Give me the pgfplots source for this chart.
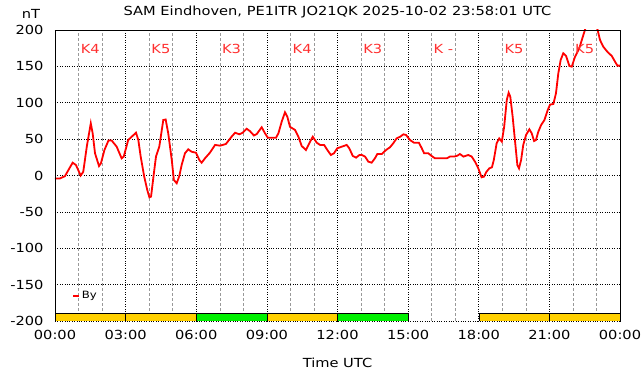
\documentclass[border=0pt]{standalone}
\usepackage{pgfplots}
\pgfplotsset{compat=1.18}
\usepackage{fontspec}
\setmainfont[FakeStretch=1.17]{DejaVu Sans}
\definecolor{kgold}{HTML}{FFD000}
\definecolor{kgreen}{HTML}{00F000}
\definecolor{klab}{HTML}{FF3030}
\begin{document}
\begin{tikzpicture}
\begin{axis}[
  name=ax,
  scale only axis, width=565pt, height=291pt,
  xmin=0, xmax=24, ymin=-200, ymax=200,
  xtick={0,3,...,24},
  xticklabels={00:00,03:00,06:00,09:00,12:00,15:00,18:00,21:00,00:00},
  minor xtick={1,2,4,5,7,8,10,11,13,14,16,17,19,20,22,23},
  ytick={-200,-150,...,200},
  grid=both,
  major grid style={black, dotted, line width=0.7pt},
  minor grid style={gray!80, densely dashed, line width=0.5pt},
  major tick length=0pt, minor tick length=0pt,
  axis line style={draw=none},
  /pgf/number format/assume math mode=true,
  tick label style={font=\fontsize{12.5}{14}\selectfont},
  yticklabel style={xshift=-8pt},
  xticklabel style={yshift=-6pt},
  xlabel={Time UTC},
  xlabel style={font=\fontsize{12.5}{14}\selectfont, yshift=-11pt},
  legend style={at={(rel axis cs:0.03,0.086)}, anchor=west, draw=none, fill=none,
    font=\fontsize{10}{11}\selectfont, inner sep=0pt},
  legend image code/.code={\draw[#1, line width=1.8pt] (0pt,0pt) -- (6pt,0pt);},
  legend cell align=left,
]
\addplot[red, line width=1.8pt] coordinates {
(0.00,-4) (0.21,-4) (0.42,-1) (0.57,7.5) (0.75,17.6) (0.89,14.4) (1.09,0) (1.20,5)
(1.35,39.6) (1.52,71.7) (1.60,58) (1.70,30.5) (1.87,13) (1.95,16.7) (2.10,35) (2.27,48)
(2.41,48) (2.62,39.6) (2.83,23.6) (2.92,26) (3.11,48.8) (3.44,58.8) (3.54,48.8) (3.64,26)
(3.79,-1.6) (3.92,-20) (4.01,-30) (4.08,-29) (4.20,3) (4.29,26) (4.43,39.6) (4.60,76.3)
(4.70,77) (4.81,58) (4.96,21.3) (5.05,-6.2) (5.17,-10.7) (5.28,-0.7) (5.38,14.4) (5.52,30.5)
(5.66,36) (5.80,32.7) (5.99,31.3) (6.13,21.3) (6.23,17.6) (6.37,23.6) (6.58,31.3) (6.80,42)
(7.01,41) (7.26,43.3) (7.50,53.3) (7.65,58.8) (7.83,56.6) (7.97,58.8) (8.14,64.3) (8.28,61)
(8.45,55) (8.57,57) (8.78,66.3) (8.92,58) (9.04,52) (9.39,52) (9.49,58) (9.63,74)
(9.77,86.9) (9.87,80.8) (9.98,67) (10.20,62.5) (10.34,53.3) (10.48,40.5) (10.66,35) (10.80,44.3)
(10.95,53.3) (11.12,45) (11.26,42) (11.43,42) (11.57,35) (11.72,28.2) (11.85,30.5) (11.99,37.4)
(12.18,39.6) (12.39,42) (12.50,37.4) (12.65,26.8) (12.79,24.5) (12.93,28.2) (13.03,28.2) (13.17,26)
(13.31,19) (13.45,17.6) (13.59,23.6) (13.69,29.5) (13.88,29.5) (14.06,35) (14.23,38.8) (14.37,44.3)
(14.51,51) (14.66,53.3) (14.80,56.6) (14.91,55.7) (15.08,48.8) (15.25,45) (15.46,45) (15.58,37.4)
(15.68,30.5) (15.86,30.5) (16.00,26.8) (16.14,23.6) (16.36,23.6) (16.64,23.6) (16.78,26) (16.95,26)
(17.09,27.2) (17.20,29.5) (17.35,26) (17.56,28.2) (17.70,26) (17.84,19) (17.98,9.9) (18.12,-2.5)
(18.22,-1.6) (18.33,5.2) (18.45,9.9) (18.56,11.3) (18.64,21.3) (18.76,44.3) (18.87,51) (18.98,46.5)
(19.08,67) (19.19,103.8) (19.27,113.8) (19.34,108.3) (19.44,80.8) (19.55,44.3) (19.64,14.4) (19.71,9.9)
(19.80,21.3) (19.89,42) (20.01,55.7) (20.15,63.5) (20.25,58) (20.35,47.4) (20.43,48.8) (20.53,60.2)
(20.65,69.4) (20.79,76.3) (20.93,90) (21.03,97.5) (21.17,98.3) (21.28,113) (21.38,140.5) (21.48,158.8)
(21.59,168) (21.71,164.3) (21.85,150.5) (21.95,149.6) (22.09,163.3) (22.27,174.8) (22.42,190.7) (22.51,200)
(22.60,210) (22.80,215) (22.95,208) (23.05,200) (23.15,186.3) (23.29,177) (23.46,170.2) (23.65,164.3)
(23.79,156.4) (23.89,151) (24.00,151)
};
\addlegendentry{By}
% K-index bars
\addplot[fill=kgold, draw=black, line width=0.5pt, forget plot] coordinates {(0,-200) (0,-189) (3,-189) (3,-200)} -- cycle;
\addplot[fill=kgold, draw=black, line width=0.5pt, forget plot] coordinates {(3,-200) (3,-189) (6,-189) (6,-200)} -- cycle;
\addplot[fill=kgreen, draw=black, line width=0.5pt, forget plot] coordinates {(6,-200) (6,-189) (9,-189) (9,-200)} -- cycle;
\addplot[fill=kgold, draw=black, line width=0.5pt, forget plot] coordinates {(9,-200) (9,-189) (12,-189) (12,-200)} -- cycle;
\addplot[fill=kgreen, draw=black, line width=0.5pt, forget plot] coordinates {(12,-200) (12,-189) (15,-189) (15,-200)} -- cycle;
\addplot[fill=kgold, draw=black, line width=0.5pt, forget plot] coordinates {(18,-200) (18,-189) (21,-189) (21,-200)} -- cycle;
\addplot[fill=kgold, draw=black, line width=0.5pt, forget plot] coordinates {(21,-200) (21,-189) (24,-189) (24,-200)} -- cycle;
\draw[black, dotted, line width=0.7pt] (axis cs:0,-200) -- (axis cs:24,-200);
% K labels
\foreach \xx/\kk in {1.5/K4,4.5/K5,7.5/K3,10.5/K4,13.5/K3,16.5/{K -},19.5/K5,22.5/K5}{
  \edef\tmp{\noexpand\node[klab, font=\noexpand\fontsize{12.5}{14}\noexpand\selectfont] at (axis cs:\xx,174) {\kk};}
  \tmp
}
\end{axis}
\draw[black, line width=0.8pt] (ax.south west) -- (ax.north west) -- (ax.north east) -- (ax.south east);
\node[font=\fontsize{12.5}{14}\selectfont] at ([yshift=18pt]ax.north) {SAM Eindhoven, PE1ITR JO21QK 2025-10-02 23:58:01 UTC};
\node[font=\fontsize{12.5}{14}\selectfont] at ([xshift=-24pt,yshift=16pt]ax.north west) {nT};
\pgfresetboundingbox
\path[use as bounding box] ([xshift=-55pt,yshift=-55pt]ax.south west) rectangle ([xshift=22pt,yshift=30pt]ax.north east);
\end{tikzpicture}
\end{document}
